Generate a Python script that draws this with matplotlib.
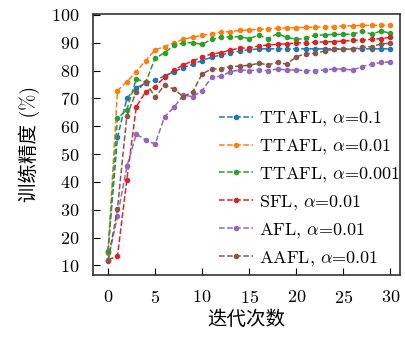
import numpy as np
import matplotlib.pyplot as plt

plt.rcParams['font.family'] = ['cmr10', 'Noto Sans CJK SC']
plt.rcParams['mathtext.fontset'] = 'cm'
plt.rcParams['axes.formatter.use_mathtext'] = True
plt.rcParams['axes.unicode_minus'] = False

rounds = np.arange(31)

ttafl_01 = [15.2, 56, 70, 73.9, 75.4, 76.6, 78, 79.6, 81, 82.3, 83.6, 84.8, 85.6, 86.4, 87, 87.5,
            87.8, 87.8, 87.8, 87.8, 87.8, 87.8, 87.8, 87.8, 87.8, 87.8, 87.8, 87.8, 87.8, 87.8, 87.8]
ttafl_001 = [14.5, 72.8, 76, 79.6, 83.6, 87.4, 88.6, 90, 91.2, 92, 92.6, 93.2, 93.8, 94, 94.4, 94.6,
             94.8, 95, 95.2, 95.3, 95.4, 95.5, 95.6, 95.7, 95.8, 96, 96.1, 96.2, 96.2, 96.3, 96.3]
ttafl_0001 = [15, 62.8, 66, 77, 75.8, 84.4, 86.4, 89, 90, 90, 89.4, 91.2, 91.9, 92.1, 92.1, 91.5,
              92.7, 91.5, 93.2, 91.9, 91.2, 91.6, 92.7, 92.8, 93, 93, 93.1, 94.1, 93.1, 94.2, 93.4]
sfl = [12, 13.4, 40.8, 67, 72.4, 74.2, 77.6, 80.2, 82, 83.5, 84.8, 86, 86.4, 87.4, 88, 88.2,
       88.8, 89.2, 89.4, 89.6, 89.9, 90, 90.2, 90.3, 90.4, 90.6, 90.8, 91, 91.2, 91.5, 91.9]
afl = [12, 27.7, 45.6, 57.2, 55, 53.6, 63.4, 66.8, 71.2, 70.6, 72.8, 77.6, 78, 79.6, 80.2, 80,
       80.2, 80, 80.6, 80.2, 80.2, 80, 80, 80.2, 80.6, 80.5, 80.2, 81.4, 82.3, 82.9, 83.1]
aafl = [11.5, 30.3, 63.8, 72.4, 76, 70.4, 74.8, 73.3, 70.6, 72.4, 78.8, 80.6, 80.6, 81.4, 81.6, 81.9,
        82.6, 82.1, 82.9, 82.3, 85, 86, 86.2, 87, 87.7, 87.7, 87.7, 88.4, 88.6, 89.6, 89.8]

series = [ttafl_01, ttafl_001, ttafl_0001, sfl, afl, aafl]
labels = ['TTAFL, $\\alpha$=0.1', 'TTAFL, $\\alpha$=0.01', 'TTAFL, $\\alpha$=0.001',
          'SFL, $\\alpha$=0.01', 'AFL, $\\alpha$=0.01', 'AAFL, $\\alpha$=0.01']

fig = plt.figure(figsize=(4.06, 3.42), dpi=100)
ax = fig.add_axes([0.229, 0.196, 0.756, 0.763])

for vals, lab in zip(series, labels):
    ax.plot(rounds, vals, '--', marker='o', markersize=3, linewidth=1.1, label=lab)

ax.set_xlim(-1.6, 31)
ax.set_ylim(6.6, 100.3)
ax.set_xticks(range(0, 31, 5))
ax.set_yticks(range(10, 101, 10))
ax.tick_params(direction='in', length=5, labelsize=13, top=False, right=False)
ax.tick_params(axis='y', pad=10)
ax.tick_params(axis='x', pad=10)
for s in ax.spines.values():
    s.set_linewidth(1.2)
    s.set_color('#333333')

ax.set_xlabel('迭代次数', fontsize=14, family=['Noto Sans CJK SC'], labelpad=2)
ax.set_ylabel('训练精度 (%)', fontsize=14, family=['cmr10', 'Noto Sans CJK SC'], labelpad=8)

ax.legend(loc='lower right', bbox_to_anchor=(1.04, -0.022), frameon=False, fontsize=13,
          labelspacing=0.5, handlelength=1.9, handletextpad=0.3, borderpad=0.2)

fig.savefig('out.png', dpi=100)
